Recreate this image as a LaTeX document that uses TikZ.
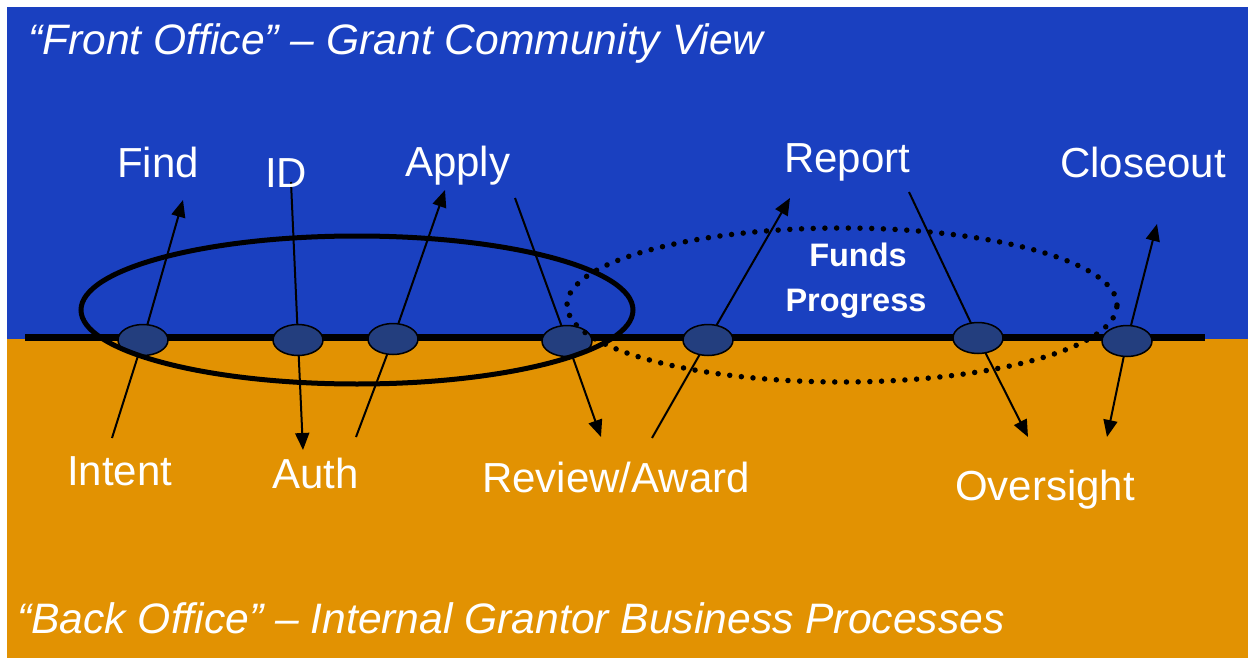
\documentclass[tikz,border=0pt]{standalone}
\usepackage{fontspec}
\setmainfont{Liberation Sans}
\usetikzlibrary{arrows.meta,shapes.geometric}
\definecolor{frontblue}{RGB}{26,64,192}
\definecolor{backorange}{RGB}{226,146,2}
\definecolor{stepfill}{RGB}{35,62,126}
\tikzset{
  stage/.style={ellipse, draw=black, line width=1.5pt, fill=stepfill,
    minimum width=50pt, minimum height=31pt, inner sep=0pt},
  lbl/.style={text=white, anchor=base west, inner sep=0pt,
    font=\fontsize{42}{48}\selectfont},
  headline/.style={text=white, anchor=base west, inner sep=0pt,
    font=\fontsize{42.6}{48}\selectfont\itshape},
  boldlbl/.style={text=white, anchor=base, inner sep=0pt,
    font=\fontsize{32.5}{38}\selectfont\bfseries},
  link/.style={draw=black, line width=2pt},
  linkarrow/.style={link, -{Triangle[length=17pt,width=14pt]}},
}
\begin{document}
\begin{tikzpicture}[x=1pt,y=-1pt]
\useasboundingbox (0,0) rectangle (1248,658);
% two office bands
\fill[frontblue] (7,7) rectangle (1248,339);
\fill[backorange] (7,339) rectangle (1248,658);

% band titles
\node[headline] (fronttitle) at (28,55) {“Front Office” – Grant Community View};
\node[headline] (backtitle) at (17,633) {“Back Office” – Internal Grantor Business Processes};

% process stages on the timeline
\coordinate (tlstart) at (25,337);
\coordinate (tlend) at (1205,337);
\draw[line width=7pt] (tlstart) -- (tlend);

\coordinate (n1) at (143,340);
\coordinate (n2) at (298,340);
\coordinate (n3) at (393,339);
\coordinate (n4) at (567,341);
\coordinate (n5) at (708,340);
\coordinate (n6) at (978,338);
\coordinate (n7) at (1127,341);

% free ends of the connectors
\coordinate (intentend) at (112,438);
\coordinate (findtip) at (183,200);
\coordinate (idstart) at (291,182);
\coordinate (authtip) at (303,450);
\coordinate (authend) at (356,437);
\coordinate (applytip) at (445,190);
\coordinate (reviewstart) at (515,198);
\coordinate (reviewtip) at (601,437);
\coordinate (awardend) at (652,438);
\coordinate (reporttip) at (790,198);
\coordinate (reportstart) at (909,192);
\coordinate (oversighttip) at (1028,437);
\coordinate (closeuptip) at (1157,224);
\coordinate (closedowntip) at (1107,437);

% connectors (drawn under the stage ellipses)
\draw[link] (intentend) -- (n1);
\draw[linkarrow] (n1) -- (findtip);
\draw[link] (idstart) -- (n2);
\draw[linkarrow] (n2) -- (authtip);
\draw[link] (authend) -- (n3);
\draw[linkarrow] (n3) -- (applytip);
\draw[link] (reviewstart) -- (n4);
\draw[linkarrow] (n4) -- (reviewtip);
\draw[link] (awardend) -- (n5);
\draw[linkarrow] (n5) -- (reporttip);
\draw[link] (reportstart) -- (n6);
\draw[linkarrow] (n6) -- (oversighttip);
\draw[linkarrow] (n7) -- (closeuptip);
\draw[linkarrow] (n7) -- (closedowntip);

% stage ellipses
\node[stage] (s1) at (n1) {};
\node[stage] (s2) at (n2) {};
\node[stage] (s3) at (n3) {};
\node[stage] (s4) at (n4) {};
\node[stage] (s5) at (n5) {};
\node[stage] (s6) at (n6) {};
\node[stage] (s7) at (n7) {};

% grouping rings
\node[ellipse, draw=black, line width=5pt, minimum width=552pt, minimum height=148pt,
  inner sep=0pt] (applyring) at (357,310) {};
\node[ellipse, draw=black, line width=5.5pt, line cap=round,
  dash pattern=on 0pt off 11.7pt, minimum width=550pt, minimum height=154pt,
  inner sep=0pt] (fundsring) at (842,305) {};

% stage labels
\node[lbl] (find) at (117,178) {Find};
\node[lbl] (id) at (265,187) {ID};
\node[lbl] (apply) at (405,177) {Apply};
\node[lbl] (report) at (784,172) {Report};
\node[lbl] (closeout) at (1060,178) {Closeout};
\node[lbl] (intent) at (67,485) {Intent};
\node[lbl] (auth) at (272,488) {Auth};
\node[lbl] (reviewaward) at (482,492) {Review/Award};
\node[lbl] (oversight) at (955,500) {Oversight};
\node[boldlbl] (funds) at (858,266) {Funds};
\node[boldlbl] (progress) at (856,311) {Progress};
\end{tikzpicture}
\end{document}
